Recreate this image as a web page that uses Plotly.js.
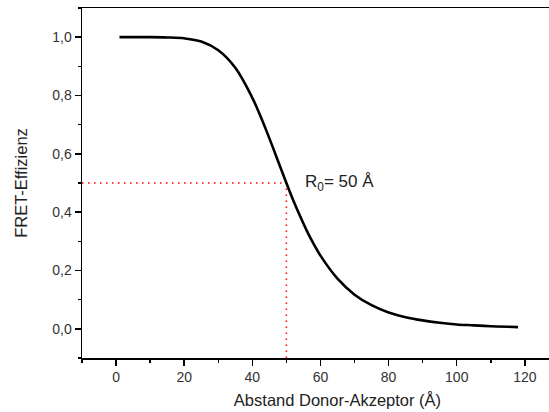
<!DOCTYPE html>
<html>
<head>
<meta charset="utf-8">
<script src="https://cdn.plot.ly/plotly-3.0.1.min.js"></script>
<style>
html,body{margin:0;padding:0;overflow:hidden;background:#fff;}
#wrap{width:549px;height:412px;overflow:hidden;position:relative;}
#chart{width:640px;height:412px;position:absolute;left:0;top:0;}
</style>
</head>
<body>
<div id="wrap"><div id="chart"></div></div>
<script>
// Distance (Å) and FRET efficiency
const distance = [1, 5, 10, 15, 20, 25, 30, 35, 40, 42, 44, 46, 48, 50, 52, 54, 56, 58, 60, 65, 70, 75, 80, 85, 90, 95, 100, 105, 110, 115, 118];
const efficiency = [1.000, 1.000, 1.000, 0.999, 0.996, 0.985, 0.955, 0.895, 0.792, 0.740, 0.683, 0.623, 0.561, 0.500, 0.441, 0.387, 0.336, 0.291, 0.251, 0.172, 0.117, 0.081, 0.056, 0.040, 0.029, 0.021, 0.015, 0.012, 0.009, 0.007, 0.006];
// R0 marker
const r0 = 50;
const r0Eff = 0.5;
const guideX = [-10, r0, r0];
const guideY = [r0Eff, r0Eff, -0.1];
const xTicks = [0, 20, 40, 60, 80, 100, 120];
const yTicks = [0.0, 0.2, 0.4, 0.6, 0.8, 1.0];

const font = {family: 'Liberation Sans, Arial, sans-serif', color: '#222'};

const traces = [
  {x: guideX, y: guideY, mode: 'lines', line: {color: '#ff0000', width: 1.5, dash: '1.5px,4.5px'}, hoverinfo: 'skip', showlegend: false},
  {x: distance, y: efficiency, mode: 'lines', line: {color: '#000', width: 2.6, shape: 'spline'}, showlegend: false}
];

const layout = {
  width: 640, height: 412,
  margin: {l: 82, r: 46.5, t: 8, b: 54},
  paper_bgcolor: '#fff', plot_bgcolor: '#fff',
  separators: ',.',
  font: Object.assign({size: 14}, font),
  xaxis: {
    range: [-10, 140], tickvals: xTicks, ticks: 'outside', ticklen: 6, tickwidth: 1.5, tickcolor: '#000',
    showline: true, linecolor: '#000', linewidth: 1.5, mirror: true, showgrid: false, zeroline: false,
    tickfont: {size: 14, color: '#333'},
    minor: {dtick: 10, ticks: 'outside', ticklen: 3, tickwidth: 1.5, tickcolor: '#000', showgrid: false},
    title: {text: 'Abstand Donor-Akzeptor (Å)', font: {size: 16.5, color: '#222'}, standoff: 10}
  },
  yaxis: {
    range: [-0.1, 1.1], tickvals: yTicks, tickformat: '.1f', ticks: 'outside', ticklen: 6, tickwidth: 1.5, tickcolor: '#000',
    showline: true, linecolor: '#000', linewidth: 1.5, mirror: false, showgrid: false, zeroline: false,
    tickfont: {size: 14, color: '#333'},
    minor: {dtick: 0.1, ticks: 'outside', ticklen: 3, tickwidth: 1.5, tickcolor: '#000', showgrid: false},
    title: {text: 'FRET-Effizienz', font: {size: 16.5, color: '#222'}, standoff: 20}
  },
  annotations: [
    {x: 55, y: r0Eff, xref: 'x', yref: 'y', text: 'R<sub>0</sub>= 50 Å', showarrow: false, xanchor: 'left', yanchor: 'middle', font: {size: 17, color: '#222'}}
  ]
};

Plotly.newPlot('chart', traces, layout, {displayModeBar: false, staticPlot: true});
</script>
</body>
</html>
